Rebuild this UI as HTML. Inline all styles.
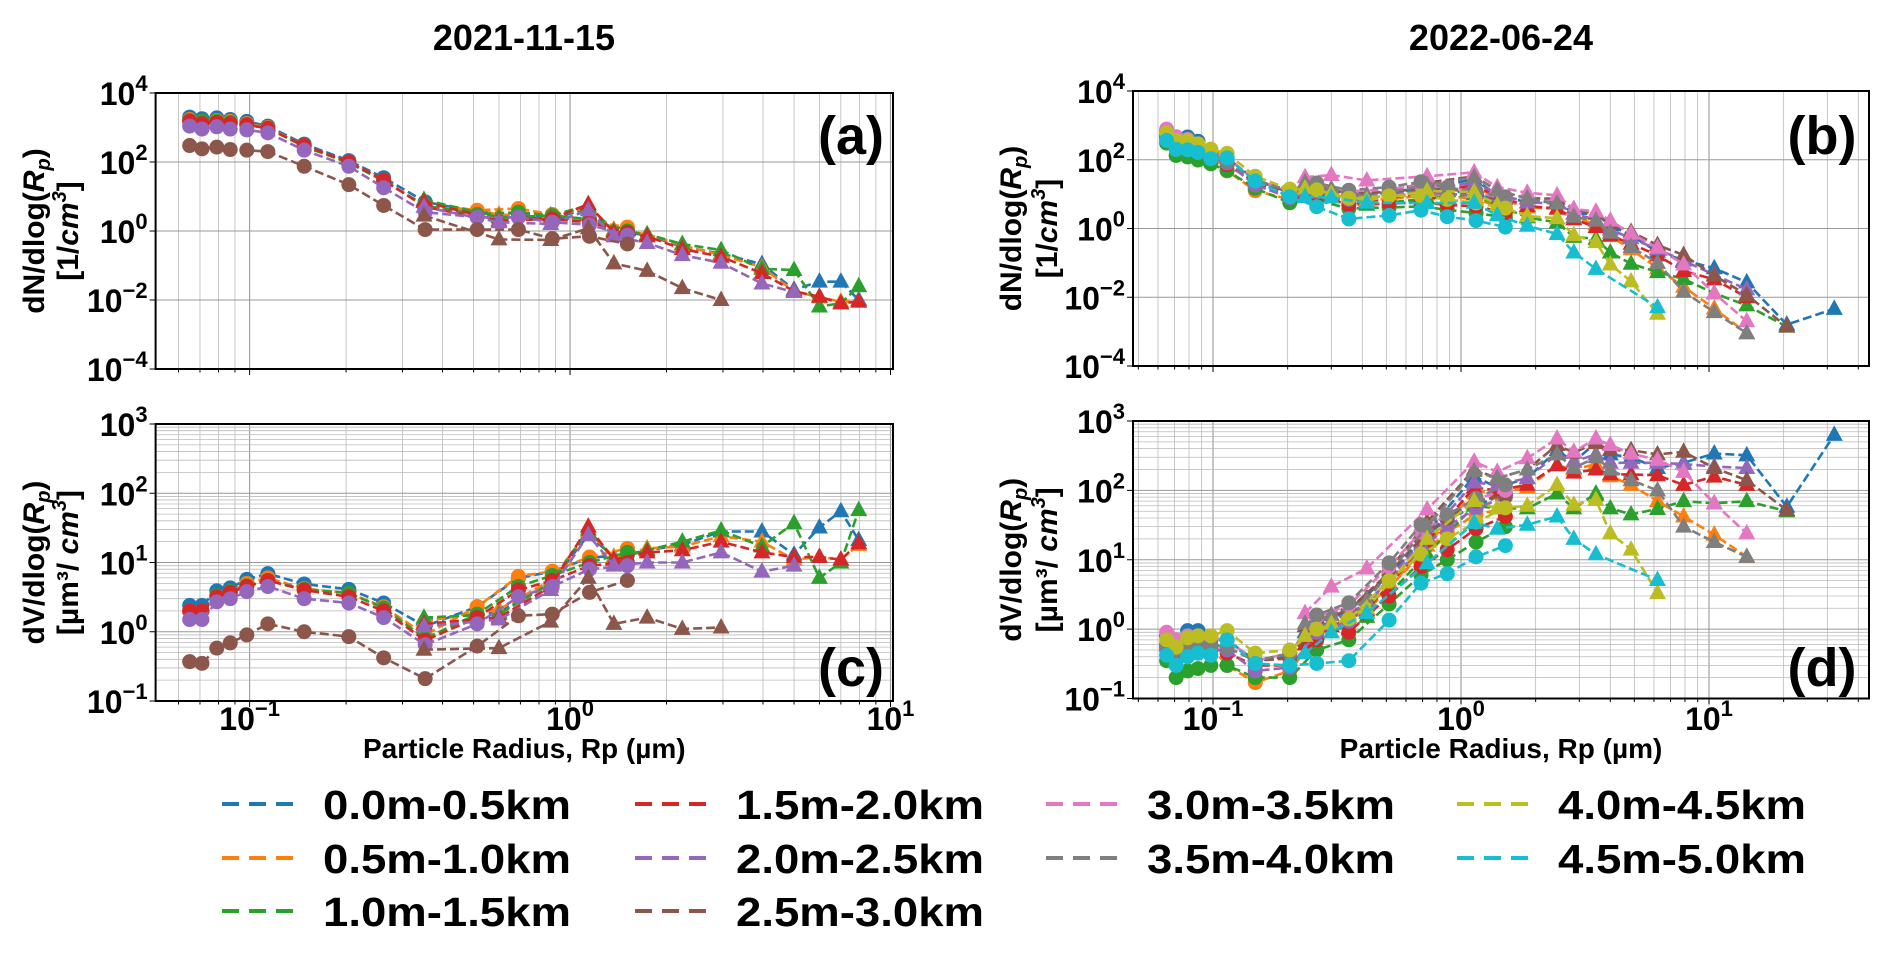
<!DOCTYPE html>
<html><head><meta charset="utf-8"><style>
html,body{margin:0;padding:0;background:#fff;}
svg text{font-family:"Liberation Sans",sans-serif;font-weight:bold;fill:#000;}
</style></head><body>
<svg id="fig" width="1889" height="951" viewBox="0 0 1889 951" xmlns="http://www.w3.org/2000/svg">
<g id="layer"></g>
</svg>
<script>
// ---------- data ----------
const seriesNames = ["0.0m-0.5km","0.5m-1.0km","1.0m-1.5km","1.5m-2.0km","2.0m-2.5km","2.5m-3.0km","3.0m-3.5km","3.5m-4.0km","4.0m-4.5km","4.5m-5.0km"];
const seriesColors = ["#1f77b4","#ff7f0e","#2ca02c","#d62728","#9467bd","#8c564b","#e377c2","#7f7f7f","#bcbd22","#17becf"];
const circleRadii = [0.065,0.071,0.079,0.087,0.098,0.114,0.148,0.204,0.262,0.353,0.513,0.69,0.88,1.15,1.51];
const triRadii2021 = [0.35,0.6,0.87,1.14,1.37,1.74,2.24,2.96,3.97,5.0,6.0,7.0,7.96];
const triRadii2022 = [0.235,0.30,0.417,0.73,1.13,1.40,1.85,2.44,2.85,3.5,4.0,4.85,6.2,7.9,10.5,14.2,20.6,32];

const dN2021Circles = [
 [2000,1800,1900,1700,1500,1100,330,110,35,7,3.5,3.2,2.5,2.0,1.1],
 [1700,1500,1600,1500,1300,1000,300,100,30,5,4,4.5,3,1.9,1.3],
 [1600,1500,1500,1400,1200,950,280,95,28,5.5,3,3.5,2.8,2.2,1.0],
 [1500,1300,1400,1300,1200,950,300,100,30,5,2.5,2.5,2.2,1.8,0.9],
 [1100,900,1050,900,850,700,220,75,18,3.5,2.5,2.5,1.8,1.5,0.75],
 [300,240,270,230,220,200,75,22,5.5,1.1,1.1,1.1,0.6,0.7,0.42]
];
const dN2021Tri = [
 [7,2.5,2.2,4.5,1.0,0.75,0.35,0.22,0.11,0.02,0.034,0.034,0.01],
 [7,3,2.5,5,1.1,0.8,0.38,0.2,0.09,0.018,0.012,0.009,0.009],
 [8,2.5,2.8,5.5,1.0,0.8,0.42,0.28,0.08,0.074,0.0065,0.008,0.025],
 [7,2,2.2,6,0.9,0.7,0.3,0.18,0.06,0.018,0.0125,0.008,0.009],
 [5,1.8,1.6,4,0.7,0.45,0.2,0.12,0.03,0.017,null,null,null],
 [2.8,0.57,0.55,1.2,0.115,0.07,0.022,0.01,null,null,null,null,null]
];
const dV2021Circles = [
 [2.4,2.4,3.9,4.3,5.7,6.9,4.9,4.1,2.6,1.2,2.3,6,7.4,11.7,13],
 [2,2,3.3,3.8,5,6,4.2,3.6,2.3,0.9,2.3,6.3,7.5,12,16],
 [2,2,3.3,3.8,4.6,5.5,4.1,3.6,2.2,0.8,1.8,4.5,6.5,10,14],
 [2,2,3.2,3.7,4.5,5.5,4,3.2,2,0.75,1.6,4,5.5,9,10],
 [1.5,1.5,2.7,3,3.8,4.5,3,2.6,1.6,0.65,1.3,3.2,4.5,8,9],
 [0.37,0.35,0.58,0.69,0.9,1.3,1.0,0.85,0.42,0.21,0.62,1.7,1.8,3.7,5.5]
];
const dV2021Tri = [
 [1.5,1.9,5,25,12,15,18,28,28,13,32,55,21],
 [1.4,2.1,5.5,28,12,16,17,24,20,11,12,11,18],
 [1.6,1.8,5,30,11,15,20,29,17,37,6,10,57],
 [1.3,1.6,4.5,33,11,14,15,20,14,12,12,11,19],
 [1.2,1.5,4,25,9,10,10,14,7.4,9,null,null,null],
 [0.55,0.58,1.4,6,1.3,1.6,1.1,1.15,null,null,null,null,null]
];
const dN2022Circles = [
 [700,400,460,344,178,113,26,11,16,9.7,10.6,14.6,13.3,9.4,6.2],
 [435,233,218,181,140,48,12.6,7,10.6,7,7.1,8.8,8.8,7.1,3.8],
 [305,133,121,98,76,48,14.8,5.6,6.7,3.8,4.1,4.4,3.5,2.8,2.1],
 [480,267,242,181,140,72,22,8.4,9.3,4.9,5.3,5.8,4.9,4.4,2.9],
 [435,267,218,163,127,80,18.5,7.8,12,7,8.9,10.2,10.5,8.6,5.5],
 [520,333,266,217,152,89,26,10.6,17.3,10.3,11.5,14.6,14,11,5.9],
 [780,467,387,290,190,113,26,12.6,20,11.9,14,18,15.8,11.8,6.9],
 [520,333,266,217,152,89,26,12.6,21,13,16,23,15.4,12,8.3],
 [610,367,363,290,203,153,33,14,13.3,7.6,8.9,8.8,7,5.5,3.9],
 [365,200,194,163,107,113,24,8.4,4.3,1.9,2.4,3.4,2.2,1.7,1.1]
];
const dN2022Tri = [
 [16.6,11.5,7.2,15.4,26.4,9.6,5.7,6.2,2.7,2.7,1.23,0.63,0.21,0.12,0.07,0.027,0.0016,0.0046],
 [11,9.7,5.9,9.8,16.5,7.8,4.1,3.8,2.1,1.33,0.6,0.25,0.07,0.02,0.0047,0.0009,null,null],
 [8.3,8,4.9,7.4,9.9,4.8,2.1,1.5,0.57,0.5,0.2,0.094,0.054,0.034,0.013,0.0058,0.0014,null],
 [11,9.7,6.3,11,18,8.7,4.5,3.8,1.85,1.1,0.63,0.36,0.165,0.058,0.033,0.01,null,null],
 [14.7,11.5,7.6,13.5,21.5,10.4,5.7,5.4,2.7,1.8,0.93,0.52,0.25,0.116,0.045,0.017,null,null],
 [20,14,9.2,21.5,33,13,7.5,7.4,3.6,2.7,1.4,0.8,0.33,0.17,0.043,0.0116,0.0014,null],
 [31,36,25,33,43,16,11,9.2,3.7,3.1,1.7,0.71,0.275,0.09,0.013,0.002,null,null],
 [22,14,8.6,18.4,31,13,7.5,5.4,2.2,1.7,0.75,0.29,0.1,0.0145,0.0037,0.0009,null,null],
 [14.7,10.6,6.6,12.3,11.5,4.8,2.3,2,0.64,0.4,0.09,0.029,0.0033,null,null,null,null,null],
 [8.3,8,5.6,5.5,5.6,2.4,1.2,0.69,0.2,0.067,null,null,0.0051,null,null,null,null,null]
];
const dV2022Circles = [
 [0.8,0.6,0.95,0.95,0.7,0.7,0.35,0.4,1.2,1.8,6,20,38,60,90],
 [0.5,0.35,0.45,0.5,0.55,0.3,0.17,0.25,0.8,1.3,4,12,25,45,55],
 [0.35,0.2,0.25,0.27,0.3,0.3,0.2,0.2,0.5,0.7,2.3,6,10,18,30],
 [0.55,0.4,0.5,0.5,0.55,0.45,0.3,0.3,0.7,0.9,3,8,14,28,42],
 [0.5,0.4,0.45,0.45,0.5,0.5,0.25,0.28,0.9,1.3,5,14,30,55,80],
 [0.6,0.5,0.55,0.6,0.6,0.55,0.35,0.38,1.3,1.9,6.5,20,40,70,85],
 [0.9,0.7,0.8,0.8,0.75,0.7,0.35,0.45,1.5,2.2,8,25,45,75,100],
 [0.6,0.5,0.55,0.6,0.6,0.55,0.35,0.45,1.6,2.4,9,32,44,77,120],
 [0.7,0.55,0.75,0.8,0.8,0.95,0.45,0.5,1.0,1.4,5,12,20,35,56],
 [0.42,0.3,0.4,0.45,0.42,0.7,0.32,0.3,0.32,0.35,1.35,4.6,6.3,11,16]
];
const dV2022Tri = [
 [0.9,1.3,2.2,25,160,110,150,380,260,480,330,300,210,250,340,320,58,630],
 [0.6,1.1,1.8,16,100,90,110,230,200,240,160,120,70,42,23,11,null,null],
 [0.45,0.9,1.5,12,60,55,55,90,55,90,55,45,54,70,65,70,50,null],
 [0.6,1.1,1.9,18,110,100,120,230,180,200,170,170,165,120,158,120,null,null],
 [0.8,1.3,2.3,22,130,120,150,330,260,330,250,250,250,240,220,210,null,null],
 [1.1,1.6,2.8,35,200,150,200,450,350,480,380,380,330,360,210,140,52,null],
 [1.7,4.1,7.5,53,260,185,290,560,360,560,450,340,275,185,65,24,null,null],
 [1.2,1.6,2.6,30,190,150,200,330,210,300,200,140,100,30,18,11,null,null],
 [0.8,1.2,2,20,70,55,60,120,62,73,24,14,3.3,null,null,null,null,null],
 [0.45,0.9,1.7,8.9,34,28,32,42,20,12,null,null,5.1,null,null,null,null,null]
];
const yTicksN = [-4,-2,0,2,4];
const yTicksV = [-1,0,1,2,3];
const xTicks = [-1,0,1];

// ---------- drawing ----------
const NS = "http://www.w3.org/2000/svg";
const layer = document.getElementById("layer");
function mk(tag, attrs, parent){
  const e = document.createElementNS(NS, tag);
  for (const k in attrs) e.setAttribute(k, attrs[k]);
  (parent||layer).appendChild(e);
  return e;
}
const panels = [
 {id:"a", x0:155.6, x1:893, y0:93, y1:369, lx0:-1.2934, lx1:1.0078, ly0:-4, ly1:4, circ:dN2021Circles, tri:dN2021Tri, tx:triRadii2021, yt:yTicksN, dense:false, xl:false, lab:[34,68], kind:"N", plab:[851,154]},
 {id:"c", x0:155.6, x1:893, y0:424, y1:701, lx0:-1.2934, lx1:1.0078, ly0:-1, ly1:3, circ:dV2021Circles, tri:dV2021Tri, tx:triRadii2021, yt:yTicksV, dense:true, xl:true, lab:[34,68], kind:"V", plab:[851,686]},
 {id:"b", x0:1133, x1:1869, y0:91, y1:366, lx0:-1.3226, lx1:1.6452, ly0:-4, ly1:4, circ:dN2022Circles, tri:dN2022Tri, tx:triRadii2022, yt:yTicksN, dense:false, xl:false, lab:[1011,1047], kind:"N", plab:[1822,154]},
 {id:"d", x0:1133, x1:1869, y0:421, y1:698.5, lx0:-1.3226, lx1:1.6452, ly0:-1, ly1:3, circ:dV2022Circles, tri:dV2022Tri, tx:triRadii2022, yt:yTicksV, dense:true, xl:true, lab:[1011,1047], kind:"V", plab:[1822,686]}
];

panels.forEach(p=>{
  const g = mk("g",{});
  
  
  const X = v => p.x0 + (Math.log10(v)-p.lx0)/(p.lx1-p.lx0)*(p.x1-p.x0);
  const Y = v => p.y1 - (Math.log10(v)-p.ly0)/(p.ly1-p.ly0)*(p.y1-p.y0);
  const gg = mk("g",{},g);
  
  
  for (let d=-2; d<=2; d++) for (let m=1; m<=9; m++){
    const v = m*Math.pow(10,d), lv = Math.log10(v);
    if (lv<=p.lx0 || lv>=p.lx1) continue;
    const x = X(v);
    mk("line",{x1:x,x2:x,y1:p.y0,y2:p.y1,stroke:m===1?"#999":"#bbb","stroke-width":m===1?1.1:0.8},gg);
    mk("line",{x1:x,x2:x,y1:p.y1,y2:p.y1+(m===1?6:3.5),stroke:"#000","stroke-width":1},gg);
  }
  for (let d=p.ly0; d<p.ly1; d++){
    for (let m=1; m<=9; m++){
      if (!p.dense && (m!==1 || (d%2)!==0)) continue;
      if (m===1 && d===p.ly0) continue;
      const y = Y(m*Math.pow(10,d));
      mk("line",{x1:p.x0,x2:p.x1,y1:y,y2:y,stroke:m===1?"#999":"#bbb","stroke-width":m===1?1.1:0.8},gg);
    }
  }
  p.yt.forEach(t=>{
    const y = Y(Math.pow(10,t));
    mk("line",{x1:p.x0-6,x2:p.x0,y1:y,y2:y,stroke:"#000","stroke-width":1},gg);
    const tx = mk("text",{x:p.x0-8,y:y+12,"text-anchor":"end","font-size":32},g);
    
    
    tx.textContent = "10";
    const s = mk("tspan",{dy:-14,"font-size":22},tx);
    s.textContent = t<0 ? "\u2212"+(-t) : String(t);
  });
  if (p.xl){
    xTicks.forEach(t=>{
      const x = X(Math.pow(10,t));
      const tx = mk("text",{x:x,y:730,"text-anchor":"middle","font-size":32},g);
      
      
      tx.textContent = "10";
      const s = mk("tspan",{dy:-14,"font-size":22},tx);
      s.textContent = t<0 ? "\u2212"+(-t) : String(t);
    });
    const xl = mk("text",{x:(p.x0+p.x1)/2,y:758,"text-anchor":"middle","font-size":28},g);
    
    
    xl.textContent = "Particle Radius, Rp (\u00b5m)";
  }
  const cy = (p.y0+p.y1)/2;
  const t1 = mk("text",{x:p.lab[0]+10,y:cy,"text-anchor":"middle","font-size":30,transform:`rotate(-90 ${p.lab[0]+10} ${cy})`},g);
  
  
  t1.innerHTML = (p.kind==="N"?"dN":"dV")+'/dlog(<tspan font-style="italic">R</tspan><tspan font-style="italic" font-size="20" dy="6">p</tspan><tspan dy="-6">)</tspan>';
  const t2 = mk("text",{x:p.lab[1]+10,y:cy,"text-anchor":"middle","font-size":30,transform:`rotate(-90 ${p.lab[1]+10} ${cy})`},g);
  
  
  t2.innerHTML = p.kind==="N" ? '[1/<tspan font-style="italic">cm</tspan><tspan font-style="italic" font-size="20" dy="-12">3</tspan><tspan dy="12">]</tspan>'
                              : '[\u00b5m\u00b3/ <tspan font-style="italic">cm</tspan><tspan font-style="italic" font-size="20" dy="-12">3</tspan><tspan dy="12">]</tspan>';
  p.circ.forEach((vals,si)=>{
    const col = seriesColors[si];
    const sg = mk("g",{},g);
    
    
    [[p.circ[si], circleRadii, "c"], [p.tri[si], p.tx, "t"]].forEach(([vs, xs, type])=>{
      const pts = [];
      vs.forEach((v,i)=>{ if (v!==null && v!==undefined) pts.push([X(xs[i]), Y(v)]); });
      if (pts.length>1){
        const pl = mk("polyline",{points:pts.map(q=>q[0].toFixed(1)+","+q[1].toFixed(1)).join(" "),fill:"none",stroke:col,"stroke-width":2.6,"stroke-dasharray":"9,4"},sg);
        
        
      }
      pts.forEach(q=>{
        let m;
        if (type==="c") m = mk("circle",{cx:q[0],cy:q[1],r:7.5,fill:col},sg);
        else m = mk("polygon",{points:`${q[0]},${q[1]-9.5} ${q[0]-8.5},${q[1]+6} ${q[0]+8.5},${q[1]+6}`,fill:col},sg);
        
        
      });
    });
  });
  const fr = mk("rect",{x:p.x0,y:p.y0,width:p.x1-p.x0,height:p.y1-p.y0,fill:"none",stroke:"#000","stroke-width":2},g);
  
  
  const pl = mk("text",{x:p.plab[0],y:p.plab[1],"text-anchor":"middle","font-size":54},g);
  
  
  pl.textContent = "("+p.id+")";
});

[["2021-11-15",524],["2022-06-24",1501]].forEach(([t,x])=>{
  const e = mk("text",{x:x,y:50,"text-anchor":"middle","font-size":36});
  
  
  e.textContent = t;
});

const lg = mk("g",{});


const colX = [222,635,1046,1457];
const rowY = [804,858,911];
const legendCol = [0,0,0,1,1,1,2,2,3,3];
const legendRow = [0,1,2,0,1,2,0,1,0,1];
seriesNames.forEach((n,i)=>{
  const c = legendCol[i], r = legendRow[i];
  const eg = mk("g",{},lg);
  
  
  mk("line",{x1:colX[c],x2:colX[c]+72,y1:rowY[r],y2:rowY[r],stroke:seriesColors[i],"stroke-width":4,"stroke-dasharray":"17,10"},eg);
  const t = mk("text",{x:colX[c]+101,y:rowY[r]+15,"font-size":41,textLength:248,lengthAdjust:"spacingAndGlyphs"},eg);
  t.textContent = n;
});
</script>
</body></html>
